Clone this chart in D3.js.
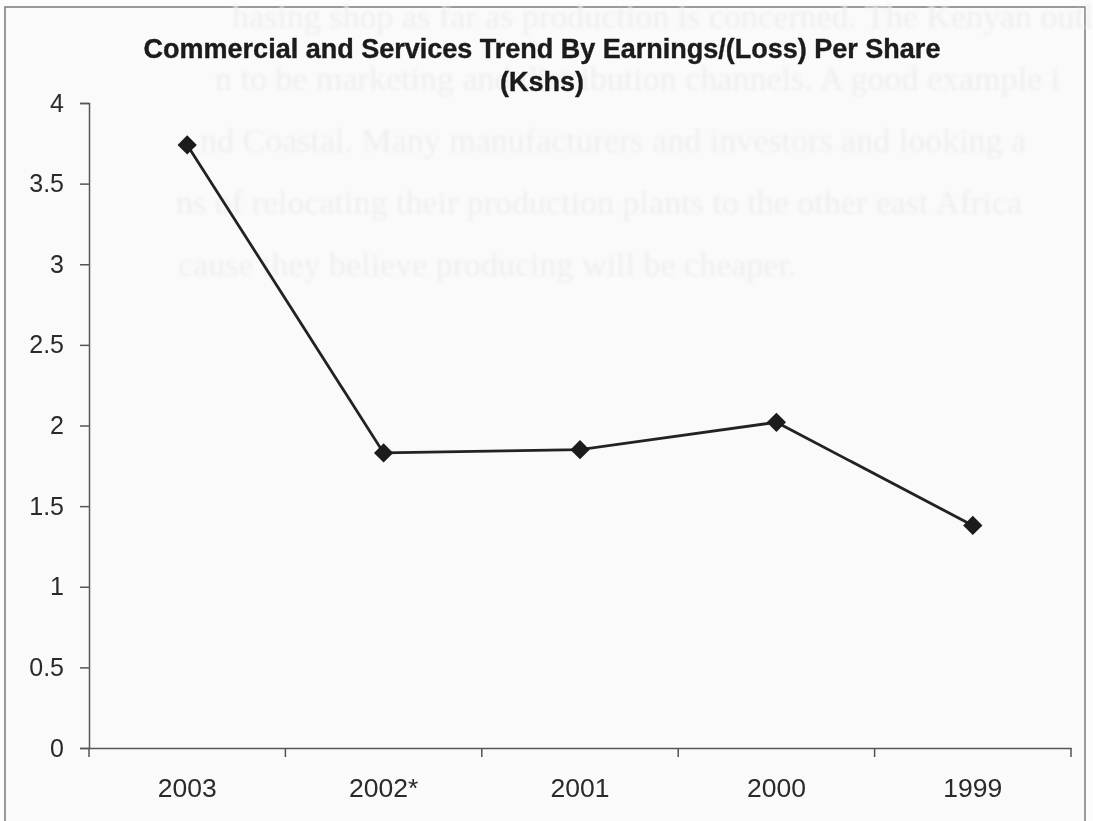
<!DOCTYPE html>
<html>
<head>
<meta charset="utf-8">
<script src="https://cdn.jsdelivr.net/npm/d3@7"></script>
<style>
  html, body { margin: 0; padding: 0; background: #fcfcfc; }
  svg { display: block; }
</style>
</head>
<body>
<div id="chart"></div>
<script>
// Earnings/(Loss) per share, Commercial and Services sector (Kshs)
const years = ["2003", "2002*", "2001", "2000", "1999"];
const eps = [3.74, 1.83, 1.85, 2.02, 1.38];
const yTicks = [0, 0.5, 1, 1.5, 2, 2.5, 3, 3.5, 4];
const titleLines = ["Commercial and Services Trend By Earnings/(Loss) Per Share", "(Kshs)"];

// Page text that shows through the scanned sheet behind the chart
const backText = [
  "hasing shop as far as production is concerned. The Kenyan outlin",
  "n to be marketing and distribution channels.  A good example i",
  "nd Coastal. Many manufacturers and investors and looking a",
  "ns of relocating their production plants to the other east Africa",
  "cause they believe producing will be cheaper."
];
const backStartX = [232, 215, 200, 176, 178];

const W = 1093, H = 821;
const svg = d3.select("#chart").append("svg")
  .attr("width", W).attr("height", H);

const defs = svg.append("defs");
defs.append("filter").attr("id", "soft")
  .append("feGaussianBlur").attr("stdDeviation", 1.5);
defs.append("filter").attr("id", "ink")
  .append("feGaussianBlur").attr("stdDeviation", 0.5);

// chart frame
svg.append("rect")
  .attr("x", 5).attr("y", 7)
  .attr("width", 1080).attr("height", 830)
  .attr("fill", "#fafafa")
  .attr("stroke", "#7a7a7a").attr("stroke-width", 1.5);

// faint show-through text
svg.append("g").attr("filter", "url(#soft)")
  .selectAll("text").data(backText).join("text")
  .attr("x", (d, i) => backStartX[i])
  .attr("y", (d, i) => 28 + i * 62)
  .attr("font-family", "'Liberation Serif', 'Times New Roman', serif")
  .attr("font-size", 34)
  .attr("fill", "#efefef")
  .text(d => d);

const plotLeft = 89, plotRight = 1071, plotTop = 103, plotBottom = 748;

const x = d3.scaleBand().domain(years).range([plotLeft, plotRight]).padding(0);
const y = d3.scaleLinear().domain([0, 4]).range([plotBottom, plotTop]);

const ink = svg.append("g").attr("filter", "url(#ink)");

// y axis
const yAxis = ink.append("g")
  .attr("transform", `translate(${plotLeft},0)`)
  .call(d3.axisLeft(y).tickValues(yTicks).tickSize(9).tickPadding(16)
    .tickFormat(d => String(d)));
yAxis.select(".domain").attr("stroke", "#555").attr("stroke-width", 1.5);
yAxis.selectAll(".tick line").attr("stroke", "#555").attr("stroke-width", 1.5);
yAxis.selectAll(".tick text")
  .attr("font-family", "'Liberation Sans', Arial, sans-serif")
  .attr("font-size", 25)
  .attr("fill", "#2a2a2a");

// x axis: ticks sit on the category boundaries
const xAxis = ink.append("g")
  .attr("transform", `translate(0,${plotBottom})`)
  .call(d3.axisBottom(x).tickSize(0).tickPadding(30));
xAxis.select(".domain").attr("stroke", "#555").attr("stroke-width", 1.5);
xAxis.selectAll(".tick text")
  .attr("font-family", "'Liberation Sans', Arial, sans-serif")
  .attr("font-size", 26.5)
  .attr("fill", "#2a2a2a");

const boundaries = years.map(d => x(d)).concat([x.range()[1]]);
ink.append("g").selectAll("line").data(boundaries).join("line")
  .attr("x1", d => d).attr("x2", d => d)
  .attr("y1", plotBottom).attr("y2", plotBottom + 9)
  .attr("stroke", "#555").attr("stroke-width", 1.5);

// title
ink.append("g").selectAll("text").data(titleLines).join("text")
  .attr("x", 542)
  .attr("y", (d, i) => 58 + i * 33)
  .attr("text-anchor", "middle")
  .attr("font-family", "'Liberation Sans', Arial, sans-serif")
  .attr("font-weight", "bold")
  .attr("font-size", 27)
  .attr("fill", "#1a1a1a")
  .attr("stroke", "#1a1a1a")
  .attr("stroke-width", 0.4)
  .text(d => d);

// series line
const pts = years.map((yr, i) => ({ yr, v: eps[i] }));
const cx = d => x(d.yr) + x.bandwidth() / 2;

ink.append("path")
  .datum(pts)
  .attr("fill", "none")
  .attr("stroke", "#222")
  .attr("stroke-width", 2.8)
  .attr("d", d3.line().x(cx).y(d => y(d.v)));

// diamond markers
ink.append("g").selectAll("path").data(pts).join("path")
  .attr("d", d3.symbol(d3.symbolSquare, 185))
  .attr("transform", d => `translate(${cx(d)},${y(d.v)}) rotate(45)`)
  .attr("fill", "#1a1a1a");
</script>
</body>
</html>
